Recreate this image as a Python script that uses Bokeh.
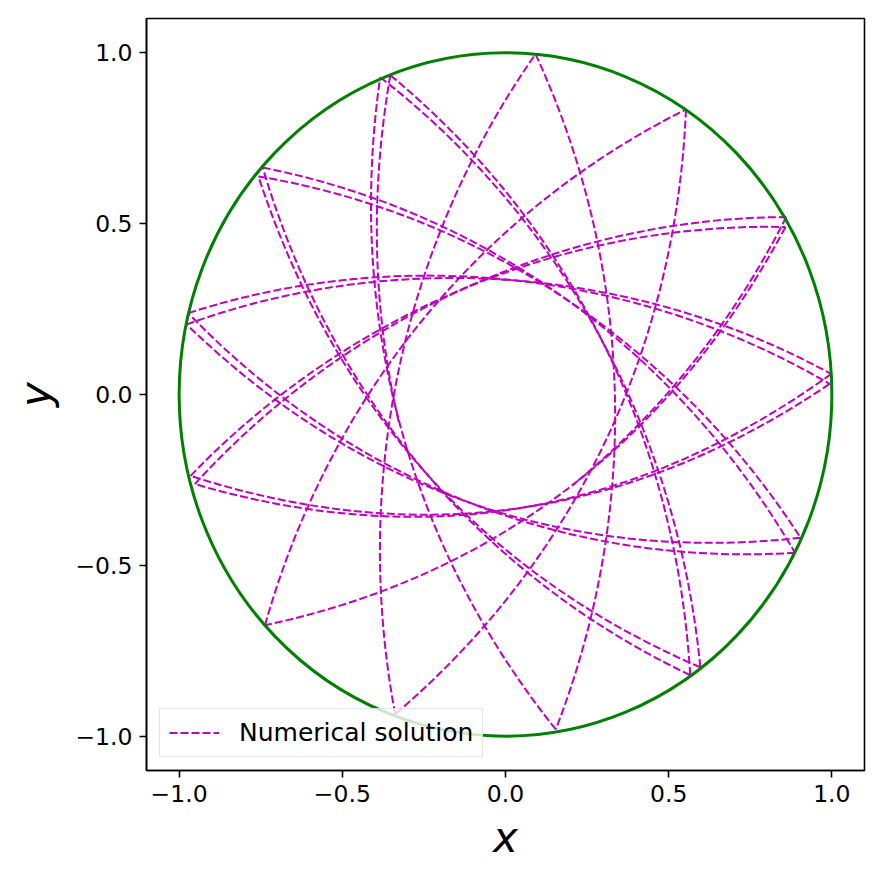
import numpy as np
from bokeh.plotting import figure
from bokeh.models import Range1d, FixedTicker, Legend, LegendItem
from bokeh.embed import file_html
from bokeh.resources import INLINE

# ---- data ----
# outer turning points of the numerical solution, in time order
tip_x = [-0.353, 0.566, -0.744, 0.887, -0.972, 0.993, -0.965, 0.858,
         -0.737, 0.553, -0.338, 0.092, 0.154, -0.384, 0.597, -0.757,
         0.904, -0.977, 0.998, -0.952, 0.860]
tip_y = [0.934, -0.821, 0.664, -0.463, 0.238, 0.031, -0.238, 0.490,
         -0.675, 0.834, -0.935, 0.996, -0.980, 0.928, -0.798, 0.638,
         -0.419, 0.205, 0.060, -0.262, 0.519]
# first and last point of the trajectory (both at the inner turning radius)
start_point = (-0.327, -0.080)
end_point = (0.207, -0.264)
inner_radius = 0.335          # radius of the empty central region
tip_angle_deg = 31.0          # angle between path and radius at the outer turning points
circle_radius = 1.0           # pendulum length (green circle)

tick_values = [-1.0, -0.5, 0.0, 0.5, 1.0]
tick_labels = ["\u22121.0", "\u22120.5", "0.0", "0.5", "1.0"]

# ---- build Bezier control points between consecutive turning points ----
alpha = np.deg2rad(tip_angle_deg)


def tip_direction(P, em):
    inward = -P / np.linalg.norm(P)
    best = None
    for s in (1.0, -1.0):
        c, sn = np.cos(s * alpha), np.sin(s * alpha)
        d = np.array([c * inward[0] - sn * inward[1], sn * inward[0] + c * inward[1]])
        if best is None or d @ em > best @ em:
            best = d
    return best


def segment(A, B, r_in):
    A = np.asarray(A, float)
    B = np.asarray(B, float)
    em = A + B
    em = em / np.linalg.norm(em)
    dA, dB = tip_direction(A, em), tip_direction(B, em)
    dist = (8 * r_in - 4 * (A + B) @ em) / (3 * (dA + dB) @ em)
    return [A, A + dist * dA, B + dist * dB, B]


def split(P):
    P0, P1, P2, P3 = P
    Q01, Q12, Q23 = (P0 + P1) / 2, (P1 + P2) / 2, (P2 + P3) / 2
    R0, R1 = (Q01 + Q12) / 2, (Q12 + Q23) / 2
    S = (R0 + R1) / 2
    return [P0, Q01, R0, S], [S, R1, Q23, P3]


def mirrored(T, M):
    em = np.asarray(M, float) / np.linalg.norm(M)
    T = np.asarray(T, float)
    return 2 * (T @ em) * em - T


segs = []
T0 = (tip_x[0], tip_y[0])
r0 = float(np.hypot(*start_point))
segs.append(split(segment(mirrored(T0, start_point), T0, r0))[1])
for i in range(len(tip_x) - 1):
    segs.append(segment((tip_x[i], tip_y[i]), (tip_x[i + 1], tip_y[i + 1]), inner_radius))
TN = (tip_x[-1], tip_y[-1])
r1 = float(np.hypot(*end_point))
segs.append(split(segment(TN, mirrored(TN, end_point), r1))[0])

bz = dict(
    x0=[s[0][0] for s in segs], y0=[s[0][1] for s in segs],
    cx0=[s[1][0] for s in segs], cy0=[s[1][1] for s in segs],
    cx1=[s[2][0] for s in segs], cy1=[s[2][1] for s in segs],
    x1=[s[3][0] for s in segs], y1=[s[3][1] for s in segs],
)

# ---- figure ----
p = figure(width=882, height=882, output_backend="svg", toolbar_location=None,
           x_range=Range1d(-1.1, 1.1), y_range=Range1d(-1.1, 1.1),
           min_border_left=146, min_border_right=18, min_border_top=18,
           min_border_bottom=112)
p.background_fill_color = "white"
p.border_fill_color = "white"
p.xgrid.visible = False
p.ygrid.visible = False
p.outline_line_color = "black"
p.outline_line_width = 1.6

magenta = "#bf00bf"
bez = p.bezier(x0="x0", y0="y0", x1="x1", y1="y1", cx0="cx0", cy0="cy0",
               cx1="cx1", cy1="cy1", source=bz, line_color=magenta,
               line_width=2, line_dash="8 3")

p.ellipse(x=[0.0], y=[0.0], width=[2 * circle_radius], height=[2 * circle_radius],
          fill_color=None, line_color="#008000", line_width=3)

for ax in (p.xaxis[0], p.yaxis[0]):
    ax.ticker = FixedTicker(ticks=tick_values)
    ax.major_label_overrides = {v: l for v, l in zip(tick_values, tick_labels)}
    ax.major_label_text_font = "DejaVu Sans"
    ax.major_label_text_font_size = "23.5px"
    ax.major_label_text_color = "black"
    ax.major_tick_out = 7
    ax.major_tick_in = 0
    ax.minor_tick_out = 0
    ax.minor_tick_in = 0
    ax.major_tick_line_width = 1.6
    ax.major_tick_line_color = "black"
    ax.axis_line_width = 1.6
    ax.axis_line_color = "black"
    ax.major_label_standoff = 7
    ax.axis_label_text_font = "DejaVu Sans"
    ax.axis_label_text_font_style = "italic"
    ax.axis_label_text_font_size = "42px"
    ax.axis_label_text_color = "black"
    ax.axis_label_standoff = 8

p.yaxis[0].axis_label_standoff = 12
p.xaxis[0].axis_label = "x"
p.yaxis[0].axis_label = "y"

legend = Legend(items=[LegendItem(label="Numerical solution", renderers=[bez])],
                location=(13, 13))
legend.label_text_font = "DejaVu Sans"
legend.label_text_font_size = "25px"
legend.label_text_color = "black"
legend.glyph_width = 50
legend.glyph_height = 25
legend.label_height = 25
legend.label_standoff = 20
legend.padding = 9
legend.border_line_color = "#cccccc"
legend.border_line_width = 1.5
legend.background_fill_alpha = 0.8
p.add_layout(legend)

open("out.html", "w").write(file_html(p, INLINE))
